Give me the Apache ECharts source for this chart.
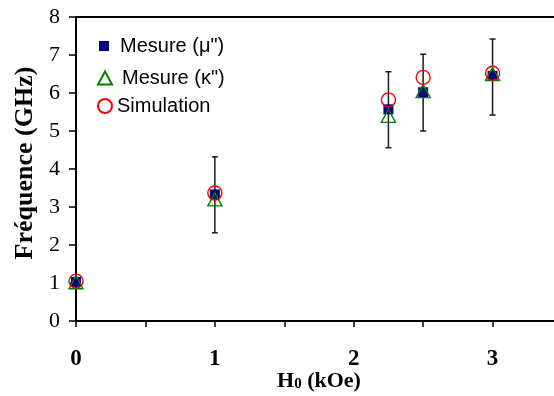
<!DOCTYPE html>
<html><head><meta charset="utf-8">
<script src="https://cdn.jsdelivr.net/npm/echarts@6/dist/echarts.min.js"></script>
<style>html,body{margin:0;padding:0;background:#fff}#c{width:554px;height:396px}</style>
</head><body><div id="c"></div>
<script>
// Data
const fieldH0   = [0, 1, 2.25, 2.5, 3];
const freqMu    = [1.03, 3.33, 5.57, 6.02, 6.45];
const freqKappa = [1.02, 3.20, 5.40, 6.05, 6.50];
const freqSim   = [1.05, 3.37, 5.82, 6.41, 6.52];
const errX      = [1, 2.25, 2.5, 3];
const errLow    = [2.32, 4.56, 5.00, 5.42];
const errHigh   = [4.32, 6.56, 7.02, 7.42];
const xTickLabels = ['0', '1', '2', '3'];
const yTickLabels = ['0', '1', '2', '3', '4', '5', '6', '7', '8'];
const seriesNames = ['Mesure (\u03bc")', 'Mesure (\u03ba")', 'Simulation'];

const serif = '"Liberation Serif", "Times New Roman", serif';
const sans = '"Liberation Sans", Arial, sans-serif';

const chart = echarts.init(document.getElementById('c'), null, {renderer: 'canvas'});
const pairs = ys => fieldH0.map((x, i) => [x, ys[i]]);

const legendBase = {
  orient: 'vertical', selectedMode: false, padding: 0
};
const legText = pad => ({fontFamily: sans, fontSize: 20, color: '#000', padding: [0, 0, 0, pad]});

chart.setOption({
  animation: false,
  backgroundColor: '#fff',
  grid: {left: 76, top: 17, right: -8, bottom: 75, outerBoundsMode: 'none', containLabel: false,
    show: true, borderColor: '#000', borderWidth: 2, backgroundColor: 'transparent'},
  xAxis: {
    type: 'value', min: 0, max: 3.5, interval: 0.5,
    axisLine: {show: true, lineStyle: {color: '#000', width: 2}},
    axisTick: {show: true, length: 6, lineStyle: {color: '#000', width: 1.5}},
    splitLine: {show: false},
    axisLabel: {
      margin: 27, color: '#000', fontFamily: serif, fontWeight: 'bold', fontSize: 23,
      formatter: v => (Number.isInteger(v) && xTickLabels[v] !== undefined) ? xTickLabels[v] : ''
    },
    name: '{a|H}{b|0}{a| (kOe)}',
    nameLocation: 'middle', nameGap: 49, nameMoveOverlap: false,
    nameTextStyle: {
      rich: {
        a: {fontFamily: serif, fontWeight: 'bold', fontSize: 22, color: '#000', lineHeight: 22},
        b: {fontFamily: serif, fontWeight: 'bold', fontSize: 15, color: '#000', lineHeight: 15, verticalAlign: 'bottom', padding: [13, 0, 0, 0]}
      }
    }
  },
  yAxis: {
    type: 'value', min: 0, max: 8, interval: 1,
    axisLine: {show: true, lineStyle: {color: '#000', width: 2}},
    axisTick: {show: true, length: 7, lineStyle: {color: '#000', width: 1.5}},
    splitLine: {show: false},
    axisLabel: {
      margin: 16, color: '#000', fontFamily: serif, fontSize: 22,
      formatter: v => yTickLabels[v] !== undefined ? yTickLabels[v] : ''
    },
    name: 'Fr\u00e9quence (GHz)',
    nameLocation: 'middle', nameRotate: 90, nameGap: 38, nameMoveOverlap: false,
    nameTextStyle: {fontFamily: serif, fontWeight: 'bold', fontSize: 26, color: '#000', padding: [0, 0, 0, 12]}
  },
  legend: [
    Object.assign({}, legendBase, {left: 99, top: 36, itemWidth: 10, itemHeight: 10, itemGap: 0,
      textStyle: legText(6), data: [{name: seriesNames[0], icon: 'rect'}]}),
    Object.assign({}, legendBase, {left: 97, top: 68, itemWidth: 14, itemHeight: 13, itemGap: 0,
      textStyle: legText(5), data: [{name: seriesNames[1], icon: 'triangle'}]}),
    Object.assign({}, legendBase, {left: 97, top: 96, itemWidth: 14, itemHeight: 14, itemGap: 0,
      textStyle: legText(0), data: [{name: seriesNames[2], icon: 'circle'}]})
  ],
  series: [
    {
      type: 'custom', name: 'err', z: 1, clip: false,
      data: errX.map((x, i) => [x, errLow[i], errHigh[i]]),
      renderItem: (params, api) => {
        const lo = api.coord([api.value(0), api.value(1)]);
        const hi = api.coord([api.value(0), api.value(2)]);
        const w = 3;
        const st = {stroke: '#1a1a1a', lineWidth: 1.5};
        return {type: 'group', children: [
          {type: 'line', shape: {x1: lo[0], y1: lo[1], x2: hi[0], y2: hi[1]}, style: st},
          {type: 'line', shape: {x1: lo[0] - w, y1: lo[1], x2: lo[0] + w, y2: lo[1]}, style: st},
          {type: 'line', shape: {x1: hi[0] - w, y1: hi[1], x2: hi[0] + w, y2: hi[1]}, style: st}
        ]};
      }
    },
    {
      type: 'scatter', name: seriesNames[0], z: 2, clip: false,
      data: pairs(freqMu), symbol: 'rect', symbolSize: 10,
      itemStyle: {color: '#000080', opacity: 1}
    },
    {
      type: 'scatter', name: seriesNames[1], z: 3, clip: false,
      data: pairs(freqKappa), symbol: 'triangle', symbolSize: [14, 13],
      itemStyle: {color: 'rgba(0,0,0,0)', borderColor: '#008000', borderWidth: 1.4, opacity: 1}
    },
    {
      type: 'scatter', name: seriesNames[2], z: 4, clip: false,
      data: pairs(freqSim), symbol: 'circle', symbolSize: 14,
      itemStyle: {color: 'rgba(0,0,0,0)', borderColor: '#ff0000', borderWidth: 1.4, opacity: 1}
    }
  ]
});
</script>
</body></html>
